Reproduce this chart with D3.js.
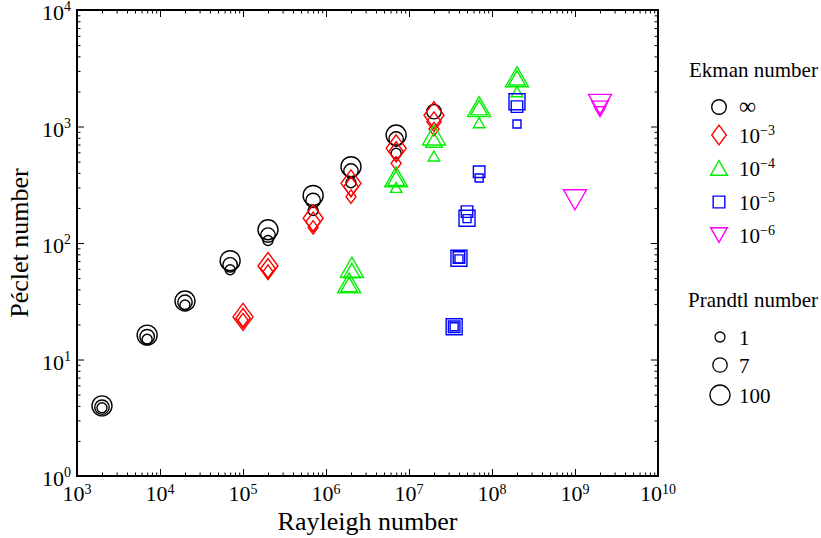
<!DOCTYPE html>
<html lang="en">
<head>
<meta charset="utf-8">
<script src="https://d3js.org/d3.v7.min.js"></script>
<style>
  body { margin: 0; background: #fff; }
  text { font-family: "Liberation Serif", "Times New Roman", serif; fill: #000; }
</style>
</head>
<body>
<script>
// ---- data ----
// E = infinity (non-rotating)
const infRa = [2e3, 2e3, 2e3, 7e3, 7e3, 7e3, 2e4, 2e4, 2e4, 7e4, 7e4, 7e4, 2e5, 2e5, 2e5,
               7e5, 7e5, 7e5, 2e6, 2e6, 2e6, 7e6, 7e6, 7e6, 2e7];
const infPe = [4.0, 3.9, 3.85, 16.2, 15.7, 14.9, 31.8, 31, 29.4, 70.5, 65, 59, 130, 117, 105,
               256, 232, 190, 452, 415, 329, 845, 781, 589, 1340];
const infPr = [100, 7, 1, 100, 7, 1, 100, 7, 1, 100, 7, 1, 100, 7, 1,
               100, 7, 1, 100, 7, 1, 100, 7, 1, 7];
// E = 1e-3
const e3Ra = [1e5, 1e5, 1e5, 2e5, 2e5, 2e5, 7e5, 7e5, 7e5, 2e6, 2e6, 2e6, 7e6, 7e6, 7e6, 2e7, 2e7, 2e7];
const e3Pe = [23.2, 22.6, 21.8, 63.5, 60.6, 56.7, 163, 152, 136, 325, 305, 250, 650, 610, 483, 1250, 1100, 950];
const e3Pr = [100, 7, 1, 100, 7, 1, 100, 7, 1, 100, 7, 1, 100, 7, 1, 100, 7, 1];
// E = 1e-4
const e4Ra = [2.05e6, 2.05e6, 1.9e6, 1.9e6, 7e6, 7e6, 7e6, 2e7, 2e7, 2e7, 7e7, 7e7, 7e7, 2e8, 2e8, 2e8];
const e4Pe = [62, 58, 45.5, 44, 370, 360, 300, 845, 765, 558, 1480, 1450, 1078, 2677, 2620, 1990];
const e4Pr = [100, 7, 100, 7, 100, 7, 1, 100, 7, 1, 100, 7, 1, 100, 7, 1];
// E = 1e-5
const e5Ra = [3.5e7, 3.5e7, 3.5e7, 4e7, 4e7, 4e7, 5e7, 5e7, 5e7, 7e7, 7e7, 2e8, 2e8, 2e8];
const e5Pe = [19.1, 19.1, 19.1, 74, 75, 73, 163, 186, 162, 409, 361, 1633, 1480, 1050];
const e5Pr = [100, 7, 1, 100, 7, 1, 100, 7, 1, 7, 1, 100, 7, 1];
// E = 1e-6
const e6Ra = [1e9, 2e9, 2e9, 2e9];
const e6Pe = [235, 1550, 1432, 1340];
const e6Pr = [100, 100, 7, 1];

const ekmanExp = ["∞", "−3", "−4", "−5", "−6"];
const prandtlValues = [1, 7, 100];
const xTickExp = [3, 4, 5, 6, 7, 8, 9, 10];
const yTickExp = [0, 1, 2, 3, 4];

const series = [
  {ra: infRa, pe: infPe, pr: infPr, shape: "circle", color: "#000000"},
  {ra: e3Ra, pe: e3Pe, pr: e3Pr, shape: "diamond", color: "#ff0000"},
  {ra: e4Ra, pe: e4Pe, pr: e4Pr, shape: "triangle", color: "#00ee00"},
  {ra: e5Ra, pe: e5Pe, pr: e5Pr, shape: "square", color: "#0000ff"},
  {ra: e6Ra, pe: e6Pe, pr: e6Pr, shape: "triangleDown", color: "#ff00ff"}
];

// ---- layout ----
const width = 821, height = 538;
const plot = {left: 77, right: 658, top: 10, bottom: 476};

const x = d3.scaleLog().domain([1e3, 1e10]).range([plot.left, plot.right]);
const y = d3.scaleLog().domain([1, 1e4]).range([plot.bottom, plot.top]);
const markerSize = d3.scaleOrdinal().domain(prandtlValues).range([5, 7.2, 10]);

const svg = d3.select("body").append("svg")
  .attr("width", width)
  .attr("height", height);

// marker outline for a given shape and size
function markerPath(shape, s) {
  const p = d3.path();
  if (shape === "circle") {
    p.moveTo(s, 0);
    p.arc(0, 0, s, 0, 2 * Math.PI);
  } else if (shape === "diamond") {
    const hh = s * 1.35;
    p.moveTo(0, -hh); p.lineTo(s, 0); p.lineTo(0, hh); p.lineTo(-s, 0); p.closePath();
  } else if (shape === "square") {
    const h = s * 0.8;
    p.rect(-h, -h, 2 * h, 2 * h);
  } else if (shape === "triangle") {
    const hw = s * 1.15;
    p.moveTo(0, -s); p.lineTo(hw, s); p.lineTo(-hw, s); p.closePath();
  } else {
    const hw = s * 1.15;
    p.moveTo(0, s); p.lineTo(hw, -s); p.lineTo(-hw, -s); p.closePath();
  }
  return p.toString();
}

// minor + major tick values
const xMinor = [], yMinor = [];
for (let e = 3; e < 10; e++) for (let k = 2; k <= 9; k++) xMinor.push(k * Math.pow(10, e));
for (let e = 0; e < 4; e++) for (let k = 2; k <= 9; k++) yMinor.push(k * Math.pow(10, e));
const xMajor = xTickExp.map(e => Math.pow(10, e));
const yMajor = yTickExp.map(e => Math.pow(10, e));

const axes = svg.append("g").attr("stroke", "#000").attr("stroke-width", 1);

function addTicks(axisFn, scale, values, size, transform) {
  axes.append("g")
    .attr("transform", transform)
    .call(axisFn(scale).tickValues(values).tickSize(size).tickFormat(""))
    .call(g => g.select(".domain").remove())
    .call(g => g.selectAll("line").attr("stroke", "#000"));
}
// inward ticks on all four sides
addTicks(d3.axisBottom, x, xMajor, -7, `translate(0,${plot.bottom})`);
addTicks(d3.axisBottom, x, xMinor, -3.5, `translate(0,${plot.bottom})`);
addTicks(d3.axisTop, x, xMajor, -7, `translate(0,${plot.top})`);
addTicks(d3.axisTop, x, xMinor, -3.5, `translate(0,${plot.top})`);
addTicks(d3.axisLeft, y, yMajor, -7, `translate(${plot.left},0)`);
addTicks(d3.axisLeft, y, yMinor, -3.5, `translate(${plot.left},0)`);
addTicks(d3.axisRight, y, yMajor, -7, `translate(${plot.right},0)`);
addTicks(d3.axisRight, y, yMinor, -3.5, `translate(${plot.right},0)`);

svg.append("rect")
  .attr("x", plot.left).attr("y", plot.top)
  .attr("width", plot.right - plot.left).attr("height", plot.bottom - plot.top)
  .attr("fill", "none").attr("stroke", "#000").attr("stroke-width", 2);

// tick labels 10^n
svg.append("g").selectAll("text")
  .data(xTickExp)
  .join("text")
  .attr("x", d => x(Math.pow(10, d)))
  .attr("y", plot.bottom + 25)
  .attr("text-anchor", "middle")
  .attr("font-size", 22)
  .call(t => t.append("tspan").text("10"))
  .call(t => t.append("tspan").attr("font-size", 14).attr("dy", -7).text(d => d));

svg.append("g").selectAll("text")
  .data(yTickExp)
  .join("text")
  .attr("x", plot.left - 6)
  .attr("y", d => y(Math.pow(10, d)) + 10)
  .attr("text-anchor", "end")
  .attr("font-size", 22)
  .call(t => t.append("tspan").text("10"))
  .call(t => t.append("tspan").attr("font-size", 14).attr("dy", -9).text(d => d));

// axis titles
svg.append("text")
  .attr("x", (plot.left + plot.right) / 2)
  .attr("y", 530)
  .attr("text-anchor", "middle")
  .attr("font-size", 26)
  .text("Rayleigh number");

svg.append("text")
  .attr("transform", `translate(28,${(plot.top + plot.bottom) / 2}) rotate(-90)`)
  .attr("text-anchor", "middle")
  .attr("font-size", 26)
  .text("Péclet number");

// data markers
const marks = svg.append("g").attr("fill", "none").attr("stroke-width", 1.4);
series.forEach(s => {
  const pts = s.ra.map((ra, i) => ({ra: ra, pe: s.pe[i], pr: s.pr[i]}));
  marks.append("g")
    .attr("stroke", s.color)
    .selectAll("path")
    .data(pts)
    .join("path")
    .attr("transform", d => `translate(${x(d.ra)},${y(d.pe)})`)
    .attr("d", d => markerPath(s.shape, markerSize(d.pr)));
});

// ---- legend ----
const legend = svg.append("g").attr("font-size", 21);
legend.append("text").attr("x", 689).attr("y", 77).text("Ekman number");

const ekRows = [107, 135, 168, 202, 235];
series.forEach((s, i) => {
  legend.append("path")
    .attr("transform", `translate(719,${ekRows[i]})`)
    .attr("d", markerPath(s.shape, 7.3))
    .attr("fill", "none").attr("stroke", s.color).attr("stroke-width", 1.4);
  const t = legend.append("text").attr("x", 739).attr("y", ekRows[i] + 8);
  if (i === 0) {
    t.attr("font-size", 24).attr("y", ekRows[i] + 7).text(ekmanExp[i]);
  } else {
    t.append("tspan").text("10");
    t.append("tspan").attr("font-size", 14).attr("dy", -8).text(ekmanExp[i]);
  }
});

legend.append("text").attr("x", 688).attr("y", 307).text("Prandtl number");
const prRows = [337, 365, 395];
prandtlValues.forEach((pr, i) => {
  legend.append("path")
    .attr("transform", `translate(720,${prRows[i]})`)
    .attr("d", markerPath("circle", markerSize(pr)))
    .attr("fill", "none").attr("stroke", "#000").attr("stroke-width", 1.3);
  legend.append("text").attr("x", 739).attr("y", prRows[i] + 8).text(pr);
});
</script>
</body>
</html>
